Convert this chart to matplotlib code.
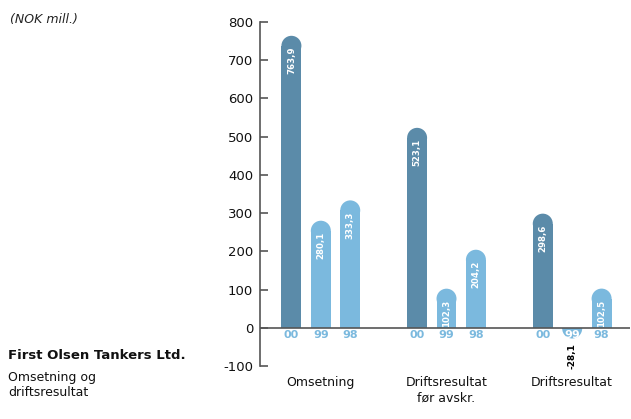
import matplotlib
matplotlib.use("Agg")
import matplotlib.pyplot as plt
from matplotlib.patches import Rectangle, Ellipse

categories = ["Omsetning", "Driftsresultat\nfør avskr.", "Driftsresultat"]
years = ["00", "99", "98"]
values = [
    [763.9, 280.1, 333.3],
    [523.1, 102.3, 204.2],
    [298.6, -28.1, 102.5],
]
labels = [
    ["763,9", "280,1", "333,3"],
    ["523,1", "102,3", "204,2"],
    ["298,6", "-28,1", "102,5"],
]
yticks = [-100, 0, 100, 200, 300, 400, 500, 600, 700, 800]

dark = "#5b8ba9"
light = "#7bb9de"
bar_colors = [dark, light, light]

W, H = 631, 419
fig = plt.figure(figsize=(W / 100, H / 100), dpi=100)
ax_l, ax_r, ax_t, ax_b = 260, 630, 22, 366
ax = fig.add_axes([ax_l / W, 1 - ax_b / H, (ax_r - ax_l) / W, (ax_b - ax_t) / H])

xmin, xmax = -0.484, 2.46
ymin, ymax = -100, 800
ax.set_xlim(xmin, xmax)
ax.set_ylim(ymin, ymax)

offset = 0.234
bw = 0.159
px_per_x = (ax_r - ax_l) / (xmax - xmin)
px_per_y = (ax_b - ax_t) / (ymax - ymin)
r_px = bw * px_per_x / 2
ry = r_px / px_per_y
gap = 1.0 / px_per_y

for gi, (vals, labs) in enumerate(zip(values, labels)):
    for bi, (v, lab) in enumerate(zip(vals, labs)):
        x = gi + (bi - 1) * offset
        c = bar_colors[bi]
        if v >= 0:
            ax.add_patch(Rectangle((x - bw / 2, 0), bw, v - ry, color=c, lw=0, zorder=2))
            ax.add_patch(Ellipse((x, v - ry), bw, 2 * ry, color=c, lw=0, zorder=2))
            ax.text(x, v - ry - gap, lab, rotation=90, ha="center", va="top",
                    color="white", fontsize=6.2, fontweight="bold", zorder=4)
            ax.text(x, -18, years[bi], ha="center", va="center", color=light,
                    fontsize=8, fontweight="bold", zorder=4)
        else:
            h = -v - ry
            ax.add_patch(Rectangle((x - bw / 2, -h), bw, h, color=c, lw=0, zorder=2))
            e = Ellipse((x, -h), bw, 2 * ry, color=c, lw=0, zorder=2)
            ax.add_patch(e)
            clip = Rectangle((x - bw, ymin), 2 * bw, -ymin, transform=ax.transData)
            e.set_clip_path(clip)
            ax.text(x, -18, years[bi], ha="center", va="center", color="white",
                    fontsize=8, fontweight="bold", zorder=4)
            ax.text(x, v - 11, lab, rotation=90, ha="center", va="top",
                    color="black", fontsize=6.5, fontweight="bold", zorder=4)

ax.axhline(0, color="#555555", lw=1.2, zorder=3)

for s in ["top", "right", "bottom"]:
    ax.spines[s].set_visible(False)
ax.spines["left"].set_color("#555555")
ax.spines["left"].set_linewidth(1.2)
ax.set_yticks(yticks)
ax.set_yticklabels([str(t) for t in yticks])
ax.tick_params(axis="y", direction="in", length=6, width=1.2, color="#555555",
               labelsize=9.5, pad=5, labelcolor="#111111")
ax.set_xticks(range(len(categories)))
ax.set_xticklabels(categories, fontsize=9, color="#111111", linespacing=1.3)
ax.tick_params(axis="x", length=0, pad=7)

fig.text(10 / W, 1 - 20 / H, "(NOK mill.)", fontsize=9, style="italic",
         ha="left", va="center", color="#222222")
fig.text(8 / W, 1 - 355 / H, "First Olsen Tankers Ltd.", fontsize=9.5,
         fontweight="bold", ha="left", va="center", color="#111111")
fig.text(8 / W, 1 - 371 / H, "Omsetning og\ndriftsresultat", fontsize=9,
         ha="left", va="top", color="#111111", linespacing=1.2)

fig.savefig("out.png", dpi=100)
